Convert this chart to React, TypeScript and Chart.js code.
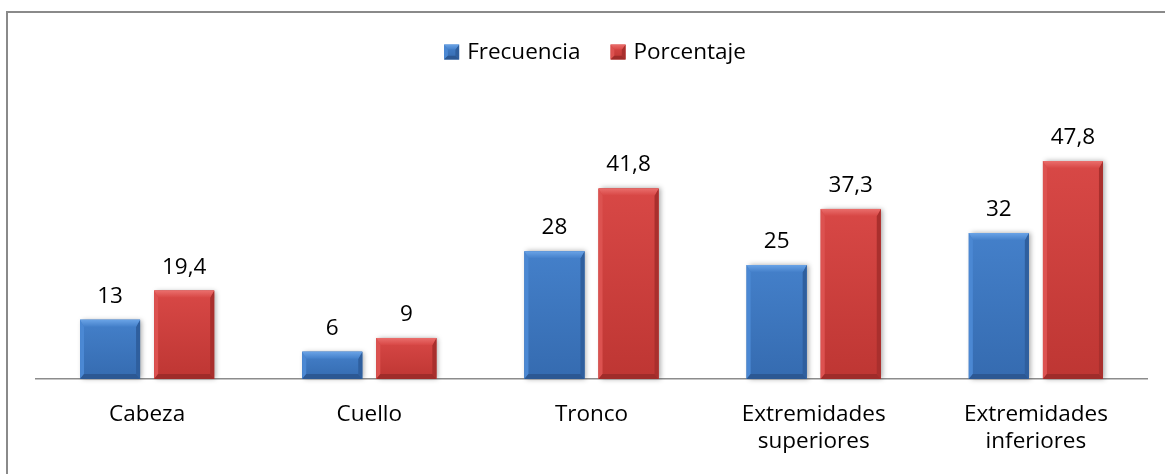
import React, { useEffect, useRef } from "react";
import { Chart, registerables } from "chart.js";

Chart.register(...registerables);

// Body regions and their counts / percentages
const categories: (string | string[])[] = [
  "Cabeza",
  "Cuello",
  "Tronco",
  ["Extremidades", "superiores"],
  ["Extremidades", "inferiores"],
];
const seriesNames = ["Frecuencia", "Porcentaje"];
const frecuencia = [13, 6, 28, 25, 32];
const porcentaje = [19.4, 9, 41.8, 37.3, 47.8];
const yMax = 50;

const FONT = '"Open Sans", sans-serif';
const TEXT_SIZE = 22.5;

type Palette = {
  base: string;
  faceTop: string;
  faceBottom: string;
  bevelTop: string;
  bevelLeft: string;
  bevelRight: string;
  bevelBottom: string;
};

const palettes: Palette[] = [
  {
    base: "#3d77c1",
    faceTop: "#4480ca",
    faceBottom: "#356bb0",
    bevelTop: "#6aa3e6",
    bevelLeft: "#4b88d3",
    bevelRight: "#2f5f9e",
    bevelBottom: "#2c5893",
  },
  {
    base: "#cc3d3a",
    faceTop: "#d84846",
    faceBottom: "#be3633",
    bevelTop: "#ea6e6c",
    bevelLeft: "#dc5250",
    bevelRight: "#a92f2d",
    bevelBottom: "#9f2c2a",
  },
];

const formatValue = (v: number) => String(v).replace(".", ",");

function drawBevelBox(
  ctx: CanvasRenderingContext2D,
  l: number,
  t: number,
  w: number,
  h: number,
  pal: Palette,
  shadow: boolean
) {
  const r = l + w;
  const b = t + h;
  const bt = Math.min(7, h / 3);
  const bs = Math.min(4, w / 4);
  const bb = Math.min(5, h / 4);

  ctx.save();
  if (shadow) {
    ctx.shadowColor = "rgba(0,0,0,0.35)";
    ctx.shadowBlur = 5;
    ctx.shadowOffsetX = 2;
    ctx.shadowOffsetY = 0;
  }
  const g = ctx.createLinearGradient(0, t, 0, b);
  g.addColorStop(0, pal.faceTop);
  g.addColorStop(1, pal.faceBottom);
  ctx.fillStyle = g;
  ctx.fillRect(l, t, w, h);
  ctx.restore();

  const poly = (pts: number[][], color: string | CanvasGradient) => {
    ctx.beginPath();
    ctx.moveTo(pts[0][0], pts[0][1]);
    for (let i = 1; i < pts.length; i++) ctx.lineTo(pts[i][0], pts[i][1]);
    ctx.closePath();
    ctx.fillStyle = color;
    ctx.fill();
  };

  poly([[l, t], [l + bs, t + bt], [l + bs, b - bb], [l, b]], pal.bevelLeft);
  poly([[r, t], [r - bs, t + bt], [r - bs, b - bb], [r, b]], pal.bevelRight);
  poly([[l, b], [l + bs, b - bb], [r - bs, b - bb], [r, b]], pal.bevelBottom);
  const tg = ctx.createLinearGradient(0, t, 0, t + bt);
  tg.addColorStop(0, pal.bevelTop);
  tg.addColorStop(1, pal.faceTop);
  poly([[l, t], [r, t], [r - bs, t + bt], [l + bs, t + bt]], tg);
}

const bevelBars = {
  id: "bevelBars",
  afterDatasetsDraw(chart: any) {
    const ctx: CanvasRenderingContext2D = chart.ctx;
    chart.data.datasets.forEach((ds: any, di: number) => {
      const meta = chart.getDatasetMeta(di);
      const pal = palettes[di];
      meta.data.forEach((el: any, i: number) => {
        const { x, y, base, width } = el.getProps(["x", "y", "base", "width"], true);
        drawBevelBox(ctx, x - width / 2, y, width, base - y, pal, true);
        ctx.save();
        ctx.font = `${TEXT_SIZE}px ${FONT}`;
        ctx.fillStyle = "#000000";
        ctx.textAlign = "center";
        ctx.textBaseline = "alphabetic";
        ctx.fillText(formatValue(ds.data[i]), x, y - 17);
        ctx.restore();
      });
    });
  },
};

const topLegend = {
  id: "topLegend",
  afterDraw(chart: any) {
    const ctx: CanvasRenderingContext2D = chart.ctx;
    const box = 15;
    const textGap = 8;
    const itemGap = 30;
    const centerX = 595;
    const midY = 52;
    ctx.save();
    ctx.font = `${TEXT_SIZE}px ${FONT}`;
    const names: string[] = chart.data.datasets.map((d: any) => d.label);
    const widths = names.map((n) => ctx.measureText(n).width);
    const total =
      widths.reduce((a, w) => a + box + textGap + w, 0) + itemGap * (names.length - 1);
    let x = centerX - total / 2;
    names.forEach((n, i) => {
      drawBevelBox(ctx, x, midY - box / 2, box, box, palettes[i], false);
      ctx.fillStyle = "#000000";
      ctx.textAlign = "left";
      ctx.textBaseline = "middle";
      ctx.fillText(n, x + box + textGap, midY + 1);
      x += box + textGap + widths[i] + itemGap;
    });
    ctx.restore();
  },
};

export default function App() {
  const canvasRef = useRef<HTMLCanvasElement | null>(null);

  useEffect(() => {
    if (!canvasRef.current) return;
    const chart = new Chart(canvasRef.current, {
      type: "bar",
      data: {
        labels: categories,
        datasets: [
          {
            label: seriesNames[0],
            data: frecuencia,
            backgroundColor: palettes[0].base,
            borderWidth: 0,
            categoryPercentage: 0.667,
            barPercentage: 0.81,
          },
          {
            label: seriesNames[1],
            data: porcentaje,
            backgroundColor: palettes[1].base,
            borderWidth: 0,
            categoryPercentage: 0.667,
            barPercentage: 0.81,
          },
        ],
      },
      options: {
        responsive: false,
        animation: false,
        devicePixelRatio: 1,
        layout: { padding: { left: 36, right: 18, top: 151, bottom: 0 } },
        plugins: {
          legend: { display: false },
          tooltip: { enabled: false },
        },
        scales: {
          x: {
            z: 1,
            grid: { display: false, drawTicks: false },
            border: { display: true, color: "#8c8c8c", width: 1.5 },
            ticks: {
              color: "#000000",
              font: { family: FONT, size: TEXT_SIZE, lineHeight: 27 / TEXT_SIZE },
              padding: 22,
              maxRotation: 0,
              autoSkip: false,
            },
            afterFit: (scale: any) => {
              scale.height = 95;
            },
          },
          y: {
            display: false,
            min: 0,
            max: yMax,
          },
        },
      },
      plugins: [bevelBars, topLegend],
    });
    return () => chart.destroy();
  }, []);

  return (
    <div
      style={{
        position: "fixed",
        left: 0,
        top: 0,
        width: 1165,
        height: 474,
        overflow: "hidden",
        background: "#ffffff",
      }}
    >
      <canvas
        ref={canvasRef}
        width={1165}
        height={474}
        style={{ position: "absolute", left: 0, top: 0, width: 1165, height: 474 }}
      />
      <div
        style={{
          position: "absolute",
          left: 6,
          top: 11,
          width: 1300,
          height: 600,
          border: "2px solid #8a8a8a",
          boxSizing: "border-box",
          pointerEvents: "none",
        }}
      />
    </div>
  );
}
